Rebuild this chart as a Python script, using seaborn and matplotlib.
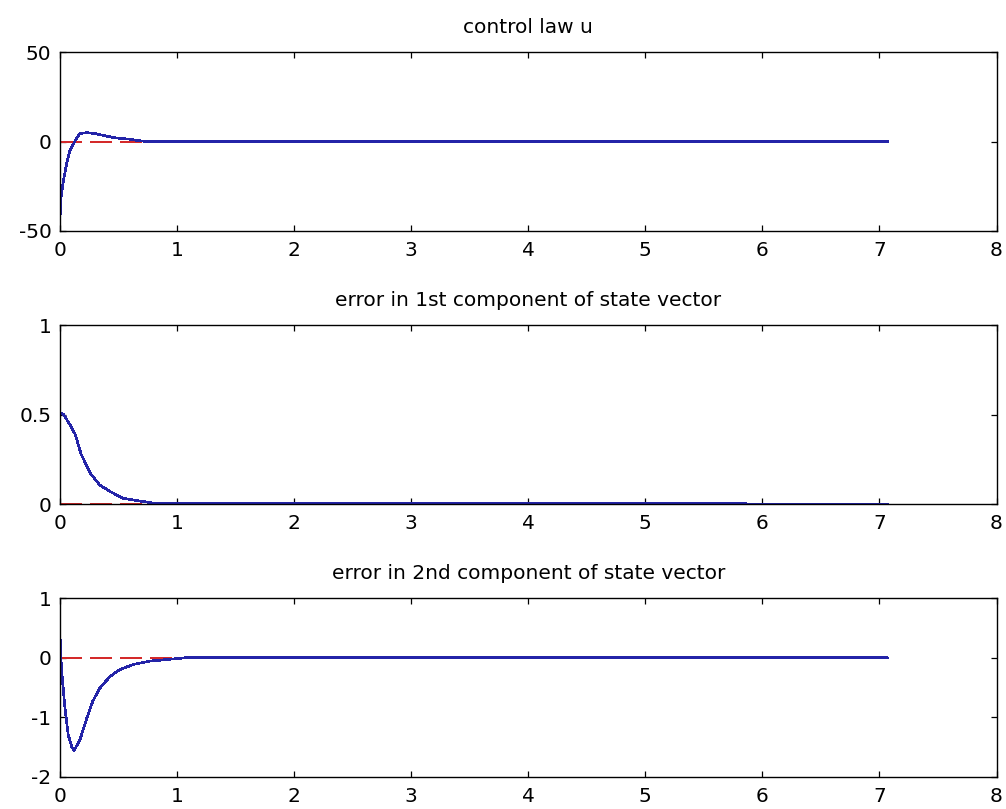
## control law and state error plots, MATLAB-like look

import pandas as pd
import matplotlib
matplotlib.use("Agg")
import matplotlib.pyplot as plt
import seaborn as sns

#----------------------------------------------------
# DATA
#----------------------------------------------------

titles = ["control law u",
          "error in 1st component of state vector",
          "error in 2nd component of state vector"]

t_u = [0, 0.01, 0.03, 0.057, 0.085, 0.11, 0.14, 0.17, 0.23, 0.30, 0.40, 0.48, 0.60, 0.65, 0.75, 7.07]
u = [-43, -31, -21.7, -12.3, -4.9, -2, 1.7, 4.5, 5, 4.5, 3, 2, 1.3, 0.7, 0, 0]

t_e1 = [0, 0.01, 0.03, 0.08, 0.13, 0.18, 0.26, 0.34, 0.43, 0.54, 0.68, 0.8, 7.07]
e1 = [0.5, 0.51, 0.50, 0.45, 0.39, 0.28, 0.171, 0.106, 0.069, 0.032, 0.017, 0.005, 0]

t_e2 = [0, 0.005, 0.014, 0.04, 0.07, 0.10, 0.12, 0.17, 0.23, 0.28, 0.34, 0.43, 0.51, 0.63, 0.77, 0.91, 1.07, 7.07]
e2 = [0.42, 0.1, -0.2, -0.79, -1.29, -1.49, -1.56, -1.38, -1.01, -0.73, -0.51, -0.31, -0.20, -0.11, -0.056, -0.03, 0, 0]

# reference (red dashed)
t_ref = [0, 7.07]
ref = [0, 0]

x_ticks = [0, 1, 2, 3, 4, 5, 6, 7, 8]
y_ticks = [[-50, 0, 50], [0, 0.5, 1], [-2, -1, 0, 1]]
y_ticklabels = [["-50", "0", "50"], ["0", "0.5", "1"], ["-2", "-1", "0", "1"]]
y_limits = [(-50, 50), (0, 1), (-2, 1)]

#----------------------------------------------------
# PLOT
#----------------------------------------------------

def main():
    sns.set_style("ticks")
    plt.rcParams["font.family"] = ["DejaVu Sans"]

    fig = plt.figure(figsize=(10.06, 8.09), dpi=100)
    series = [(t_u, u), (t_e1, e1), (t_e2, e2)]
    # axes boxes [left, bottom, width, height] in figure fractions
    bottoms = [0.7145, 0.377, 0.0396]

    for i, (tt, yy) in enumerate(series):
        ax = fig.add_axes([0.0596, bottoms[i], 0.931, 0.221])
        df_ref = pd.DataFrame({"t": t_ref, "y": ref})
        df = pd.DataFrame({"t": tt, "y": yy})
        # MATLAB look: plain aliased lines, blue drawn over the red reference
        sns.lineplot(data=df_ref, x="t", y="y", ax=ax, color="#d42a2a",
                     linewidth=1.2, linestyle=(0, (13, 5)), estimator=None, sort=False,
                     antialiased=False)
        sns.lineplot(data=df, x="t", y="y", ax=ax, color="#2424a8",
                     linewidth=1.2, estimator=None, sort=False, antialiased=False)

        ax.set_xlim(0, 8)
        ax.set_ylim(*y_limits[i])
        ax.set_xticks(x_ticks)
        ax.set_xticklabels([str(v) for v in x_ticks])
        ax.set_yticks(y_ticks[i])
        ax.set_yticklabels(y_ticklabels[i])
        ax.set_xlabel("")
        ax.set_ylabel("")
        ax.set_title(titles[i], fontsize=14.5, pad=14, color="black")

        for sp in ax.spines.values():
            sp.set_visible(True)
            sp.set_linewidth(1.0)
            sp.set_color("black")
        ax.tick_params(direction="in", length=4.5, width=0.9, labelsize=14.5,
                       top=True, right=True, colors="black")
        ax.tick_params(axis="x", pad=7)
        ax.tick_params(axis="y", pad=6)

    fig.savefig("out.png", dpi=100)
    return


if __name__ == '__main__':
    main()
